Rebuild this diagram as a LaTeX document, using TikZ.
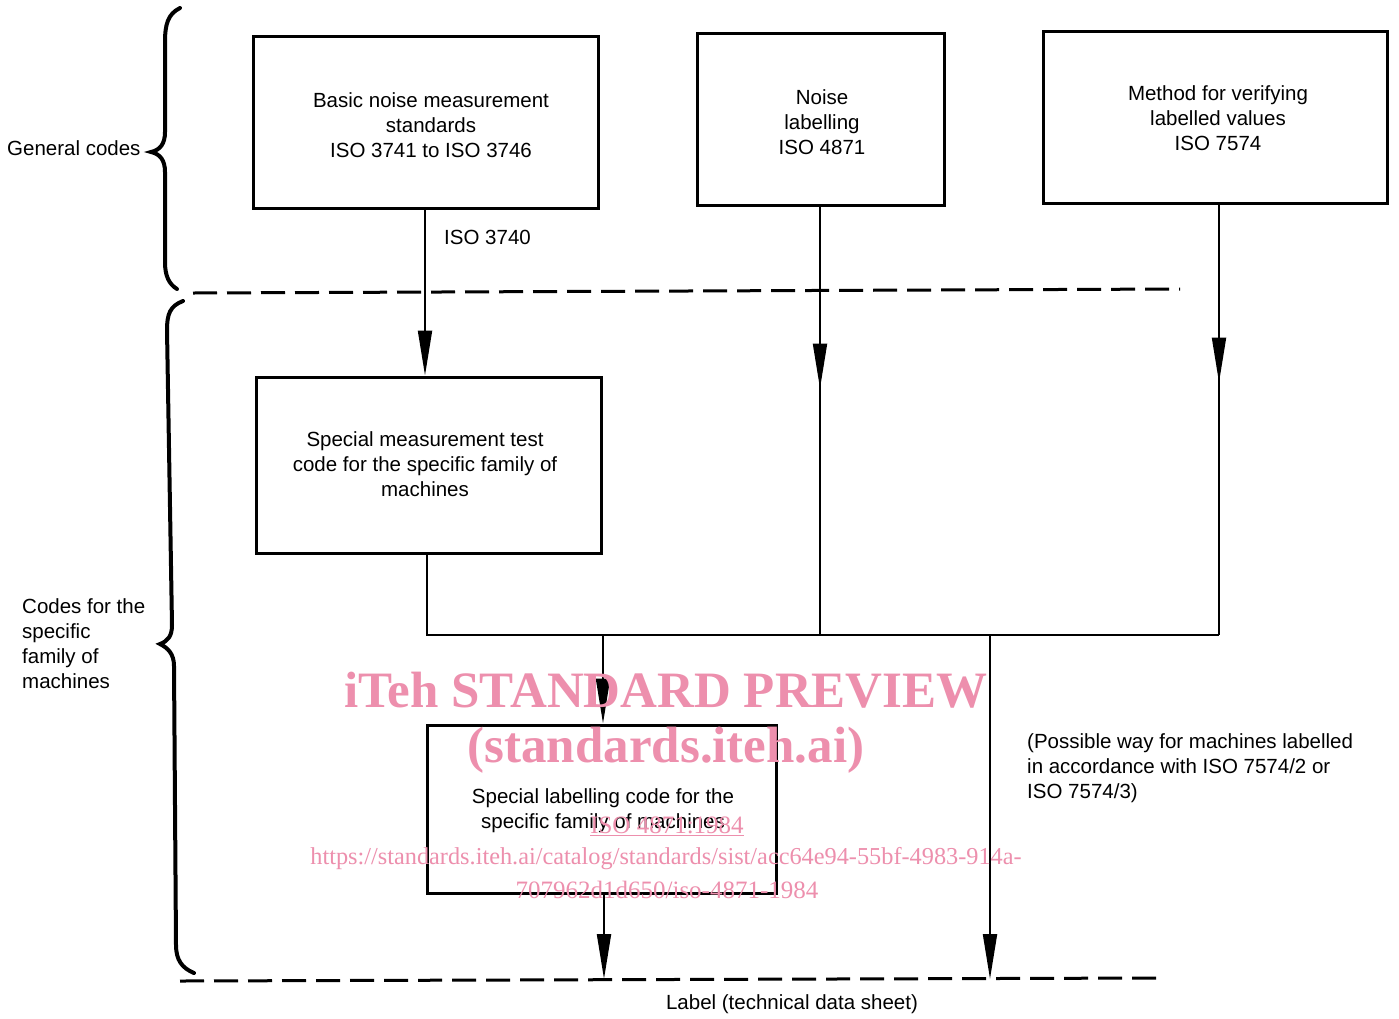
\documentclass[tikz,border=0pt]{standalone}
\usepackage{fontspec}
\setmainfont{Liberation Sans}
\newfontfamily\wmfont{Liberation Serif}
\usetikzlibrary{arrows.meta,decorations.markings}
\definecolor{wmpink}{RGB}{237,143,173}
\tikzset{
  box/.style={draw, line width=3pt, inner sep=0pt},
  conn/.style={line width=2pt},
  lbl/.style={inner sep=0pt, font=\fontsize{20.5}{25}\selectfont},
  brace/.style={line width=4pt, line cap=round},
  sep/.style={line width=3pt, dash pattern=on 24pt off 10pt},
  >={Triangle[length=45pt,width=14pt]},
  midarrow/.style={postaction={decorate}, decoration={markings, mark=at position #1 with {\arrow{>}}}},
  wm/.style={inner sep=0pt, text=wmpink},
}
\begin{document}
\begin{tikzpicture}[x=1pt,y=-1pt]
\fill[white] (0,0) rectangle (1399,1018);
\useasboundingbox (0,0) rectangle (1399,1018);

% boxes
\node[box, minimum width=345pt, minimum height=172pt] (b1) at (425.5,122) {};
\node[box, minimum width=247pt, minimum height=172pt] (b2) at (820.5,119) {};
\node[box, minimum width=344pt, minimum height=172pt] (b3) at (1215,117) {};
\node[box, minimum width=345pt, minimum height=176pt] (b4) at (428.5,465) {};
\node[box, minimum width=349pt, minimum height=168pt] (b5) at (601.5,809) {};
\node[lbl, align=center] (t1) at (431,125.5) {Basic noise measurement\\standards\\ISO 3741 to ISO 3746};
\node[lbl, align=center] (t2) at (822,122.5) {Noise\\labelling\\ISO 4871};
\node[lbl, align=center] (t3) at (1218,118.5) {Method for verifying\\labelled values\\ISO 7574};
\node[lbl, align=center] (t4) at (425,464.5) {Special measurement test\\code for the specific family of\\machines};
\node[lbl, align=center] (t5) at (603,811) {Special labelling code for the\\specific family of machines};

% labels
\node[lbl, anchor=west] (l3740) at (444,237.5) {ISO 3740};
\node[lbl, anchor=west] (lgen) at (7,148.5) {General codes};
\node[lbl, anchor=west, align=left] (lspec) at (22,644) {Codes for the\\specific\\family of\\machines};
\node[lbl, anchor=west, align=left] (lposs) at (1027,768) {(Possible way for machines labelled\\in accordance with ISO 7574/2 or\\ISO 7574/3)};
\node[lbl] (llabel) at (792,1004.5) {Label (technical data sheet)};

% coordinates
\coordinate (bus) at (0,635);
\coordinate (bot) at (0,979);
\coordinate (xa) at (425,0);
\coordinate (xb) at (820,0);
\coordinate (xc) at (1219,0);
\coordinate (xd) at (427,0);
\coordinate (xf) at (603,0);
\coordinate (xg) at (604,0);
\coordinate (xr) at (990,0);

% separators
\coordinate (s1a) at (193,293);
\coordinate (s1b) at (1180,289);
\coordinate (s2a) at (180,981);
\coordinate (s2b) at (1157,978);
\draw[sep] (s1a) -- (s1b);
\draw[sep] (s2a) -- (s2b);

% connectors
\draw[conn, ->] (xa |- b1.south) -- (xa |- b4.north);
\draw[conn, midarrow=182pt] (xb |- b2.south) -- (xb |- bus);
\draw[conn, midarrow=178pt] (xc |- b3.south) -- (xc |- bus);
\draw[conn] (xd |- b4.south) -- (xd |- bus) -- (xc |- bus);
\draw[conn, ->] (xf |- bus) -- (xf |- b5.north);
\draw[conn, ->] (xg |- b5.south) -- (xg |- bot);
\draw[conn, ->] (xr |- bus) -- (xr |- bot);

% braces
\draw[brace] (180,8) .. controls (168,14) and (165,24) .. (165,42) -- (165,132)
  .. controls (165,144) and (160,150) .. (151,152)
  .. controls (160,154) and (165,160) .. (165,172) -- (165,262)
  .. controls (165,276) and (169,284) .. (177,289);
\draw[brace] (183,301) .. controls (170,306) and (167,314) .. (167,330) -- (172,625)
  .. controls (172,636) and (168,641) .. (160,644)
  .. controls (168,648) and (174,654) .. (174,666) -- (176,945)
  .. controls (176,960) and (182,968) .. (194,973);

% watermark
\node[wm, font=\wmfont\bfseries\fontsize{51}{55}\selectfont] (wm1) at (666,690) {iTeh STANDARD PREVIEW};
\node[wm, font=\wmfont\bfseries\fontsize{51}{55}\selectfont] (wm2) at (666,750) {(standards.iteh.ai)};
\node[wm, font=\wmfont\fontsize{25}{28}\selectfont] (wm3) at (667,826) {\underline{ISO 4871:1984}};
\node[wm, font=\wmfont\fontsize{24.3}{28}\selectfont] (wm4) at (666,859) {https://standards.iteh.ai/catalog/standards/sist/acc64e94-55bf-4983-914a-};
\node[wm, font=\wmfont\fontsize{25}{28}\selectfont] (wm5) at (667,890) {707962d1d650/iso-4871-1984};
\end{tikzpicture}
\end{document}
